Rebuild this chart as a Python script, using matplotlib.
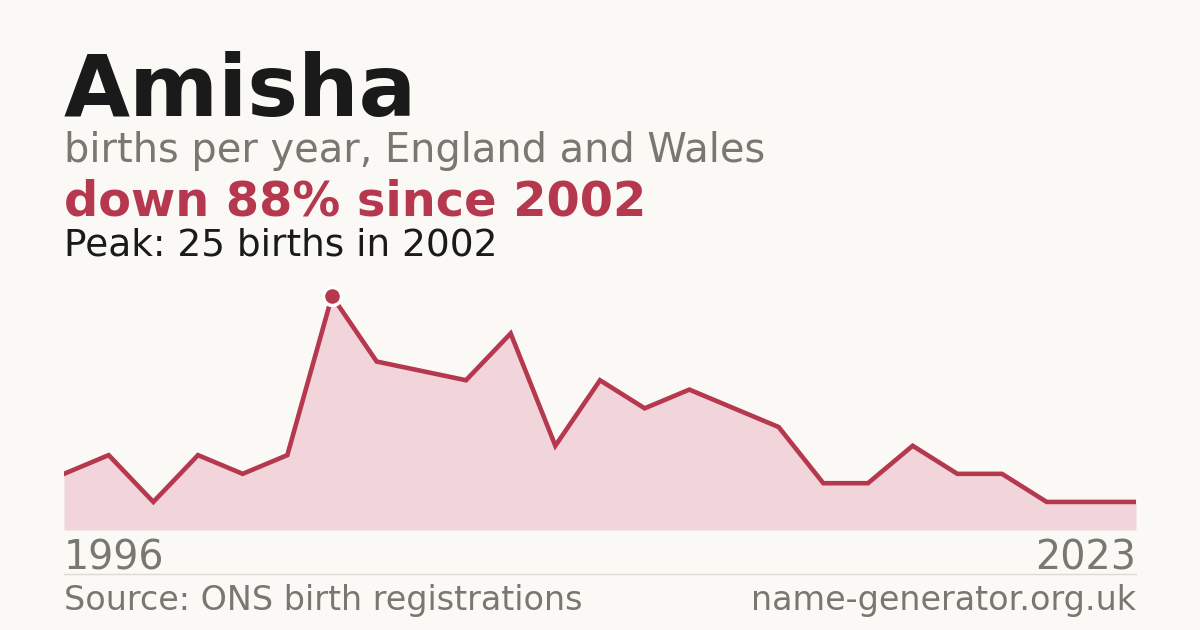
import matplotlib.pyplot as plt
import numpy as np

# births per year (points evenly spaced, first and last year labelled)
years = [1996, 1997, 1998, 1999, 2000, 2001, 2002, 2003, 2004, 2005, 2006, 2007, 2008,
         2009, 2010, 2011, 2012, 2013, 2014, 2015, 2016, 2017, 2018, 2019, 2023]
births = [6, 8, 3, 8, 6, 8, 25, 18, 17, 16, 21, 9, 16,
          13, 15, 13, 11, 5, 5, 9, 6, 6, 3, 3, 3]

bg = "#faf9f5"
red = "#b5384f"
fill = "#f1d5da"
grey = "#7a7670"
dark = "#1a1a1a"

W, H = 1200, 630
fig = plt.figure(figsize=(12, 6.3), dpi=100, facecolor=bg)

def fy(px):
    return 1 - px / H

x = np.arange(len(births))
peak_i = int(np.argmax(births))

ax = fig.add_axes([64 / W, fy(530), 1072 / W, (530 - 296) / H])
ax.set_facecolor(bg)
ax.fill_between(x, births, 0, color=fill, lw=0)
ax.plot(x, births, color=red, lw=3.3, solid_joinstyle="miter")
ax.plot(x[peak_i], births[peak_i], "o", ms=13, color=red, mec="white", mew=2.5, clip_on=False, zorder=5)
ax.set_xlim(0, len(births) - 1)
ax.set_ylim(0, max(births))
ax.axis("off")

fig.text(64 / W, fy(116), "Amisha", fontsize=61.5, fontweight="bold", color=dark, va="baseline")
fig.text(64 / W, fy(162), "births per year, England and Wales", fontsize=28.7, color=grey, va="baseline")
first = births[peak_i]
last = births[-1]
drop = round((first - last) / first * 100)
fig.text(64 / W, fy(216), f"down {drop}% since {years[peak_i]}", fontsize=34.5, fontweight="bold", color=red, va="baseline")
fig.text(64 / W, fy(256), f"Peak: {first} births in {years[peak_i]}", fontsize=27, color=dark, va="baseline")

fig.text(64 / W, fy(570), str(years[0]), fontsize=28.5, color=grey, va="baseline")
fig.text(1136 / W, fy(570), str(years[-1]), fontsize=28.5, color=grey, va="baseline", ha="right")
fig.add_artist(plt.Line2D([64 / W, 1136 / W], [fy(574), fy(574)], color="#dddad3", lw=1))
fig.text(64 / W, fy(610), "Source: ONS birth registrations", fontsize=24, color=grey, va="baseline")
fig.text(1136 / W, fy(610), "name-generator.org.uk", fontsize=24, color=grey, va="baseline", ha="right")

fig.savefig("out.png", dpi=100, facecolor=bg)
